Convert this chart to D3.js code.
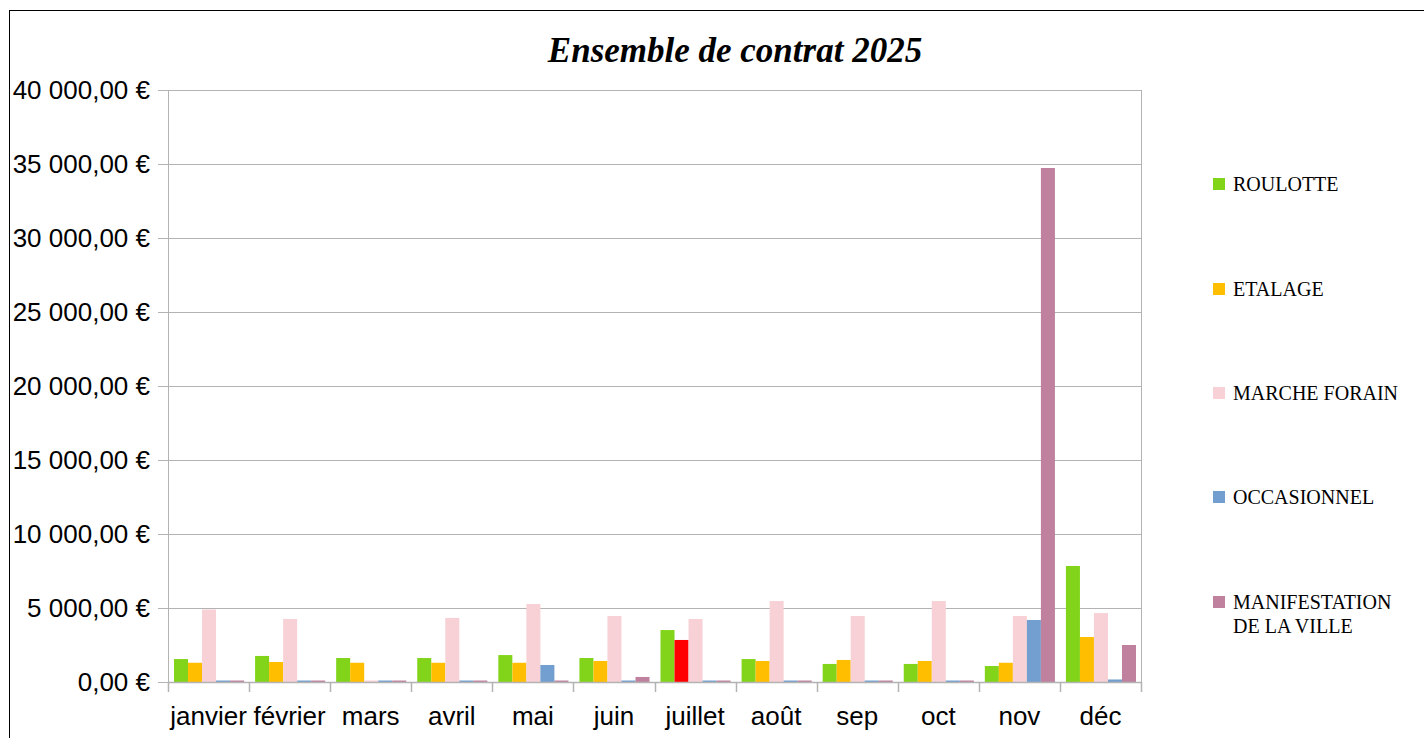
<!DOCTYPE html>
<html>
<head>
<meta charset="utf-8">
<script src="https://cdn.jsdelivr.net/npm/d3@7"></script>
<style>
  body { margin: 0; background: #fff; }
  svg { display: block; }
</style>
</head>
<body>
<svg id="chart" width="1424" height="738"></svg>
<script>
// data
const months = ["janvier", "février", "mars", "avril", "mai", "juin", "juillet", "août", "sep", "oct", "nov", "déc"];
const seriesNames = ["ROULOTTE", "ETALAGE", "MARCHE FORAIN", "OCCASIONNEL", "MANIFESTATION DE LA VILLE"];
const roulotte     = [1550, 1760, 1620, 1620, 1820, 1620, 3510, 1550, 1220, 1220, 1080, 7840];
const etalage      = [1300, 1350, 1300, 1300, 1300, 1420, 2840, 1420, 1490, 1420, 1300, 3040];
const marcheForain = [4900, 4260, 0, 4330, 5270, 4460, 4260, 5470, 4460, 5470, 4460, 4660];
const occasionnel  = [0, 0, 0, 0, 1150, 0, 0, 0, 0, 0, 4190, 170];
const manifestation = [0, 0, 0, 0, 0, 340, 0, 0, 0, 0, 34730, 2500];
const yTicks = [0, 5000, 10000, 15000, 20000, 25000, 30000, 35000, 40000];

const colors = ["#81d41a", "#ffbf00", "#f7d1d5", "#729fcf", "#bf819e"];
const series = [roulotte, etalage, marcheForain, occasionnel, manifestation];

var margin = { top: 90, left: 168 },
    width = 973,
    height = 592;

var svg = d3.select("#chart");

// outer frame
svg.append("rect")
    .attr("x", 9.5).attr("y", 10.5)
    .attr("width", 1430).attr("height", 740)
    .attr("fill", "none").attr("stroke", "#000").attr("stroke-width", 1);

// title
svg.append("text")
    .attr("x", 735).attr("y", 62)
    .attr("text-anchor", "middle")
    .style("font-family", "'Liberation Serif', 'DejaVu Serif', serif")
    .style("font-weight", "bold").style("font-style", "italic")
    .style("font-size", "35px")
    .text("Ensemble de contrat 2025");

var g = svg.append("g").attr("transform", "translate(" + margin.left + "," + margin.top + ")");

var x = d3.scaleBand().domain(months).range([0, width]).paddingInner(0).paddingOuter(0);
var xInner = d3.scaleBand().domain(d3.range(seriesNames.length))
    .range([6, x.bandwidth() - 5]);
var y = d3.scaleLinear().domain([0, 40000]).range([height, 0]);

var fmt = function (v) {
    return d3.format(",.2f")(v).replace(/,/g, " ").replace(".", ",") + " €";
};

// gridlines
g.selectAll(".grid").data(yTicks).enter().append("line")
    .attr("x1", -10).attr("x2", width)
    .attr("y1", d => Math.round(y(d)) + 0.5).attr("y2", d => Math.round(y(d)) + 0.5)
    .attr("stroke", "#b3b3b3").attr("stroke-width", 1);

// y axis
var yAxis = d3.axisLeft(y).tickValues(yTicks).tickFormat(fmt).tickSize(0).tickPadding(18);
var ya = g.append("g").call(yAxis);
ya.select(".domain").attr("stroke", "#b3b3b3");
ya.selectAll("text")
    .style("font-family", "'Liberation Sans', Arial, sans-serif")
    .style("font-size", "26px").attr("fill", "#000");

// right border of plot
g.append("line").attr("x1", width + 0.5).attr("x2", width + 0.5)
    .attr("y1", 0).attr("y2", height).attr("stroke", "#b3b3b3");

// bars
months.forEach(function (m, i) {
    series.forEach(function (s, k) {
        var v = s[i];
        var h = Math.max(height - y(v), 1.5);
        var col = colors[k];
        if (m === "juillet" && k === 1) col = "#ff0000";
        g.append("rect")
            .attr("x", x(m) + xInner(k))
            .attr("width", xInner.bandwidth())
            .attr("y", height - h)
            .attr("height", h)
            .attr("fill", col);
    });
});

// x axis
var xa = g.append("g").attr("transform", "translate(0," + height + ")")
    .call(d3.axisBottom(x).tickSize(0).tickPadding(25));
xa.select(".domain").attr("stroke", "#b3b3b3").attr("stroke-width", 1.5);
xa.selectAll("text")
    .style("font-family", "'Liberation Sans', Arial, sans-serif")
    .style("font-size", "26px").attr("fill", "#000");
// category boundary ticks
xa.selectAll(".bound").data(d3.range(months.length + 1)).enter().append("line")
    .attr("x1", d => Math.round(d * x.bandwidth()) + 0.5)
    .attr("x2", d => Math.round(d * x.bandwidth()) + 0.5)
    .attr("y1", 0).attr("y2", 10)
    .attr("stroke", "#b3b3b3").attr("stroke-width", 1.5);

// legend
var legendY = [184, 289, 393, 497, 602];
var leg = svg.append("g");
seriesNames.forEach(function (name, k) {
    var row = leg.append("g").attr("transform", "translate(1213," + legendY[k] + ")");
    row.append("rect").attr("x", 0).attr("y", -6).attr("width", 12).attr("height", 12)
        .attr("fill", colors[k]);
    var t = row.append("text").attr("x", 20).attr("y", 7)
        .style("font-family", "'Liberation Serif', 'DejaVu Serif', serif")
        .style("font-size", "20px").attr("fill", "#000");
    if (k === 4) {
        t.append("tspan").attr("x", 20).text("MANIFESTATION");
        t.append("tspan").attr("x", 20).attr("dy", 24).text("DE LA VILLE");
    } else {
        t.text(name);
    }
});
</script>
</body>
</html>
